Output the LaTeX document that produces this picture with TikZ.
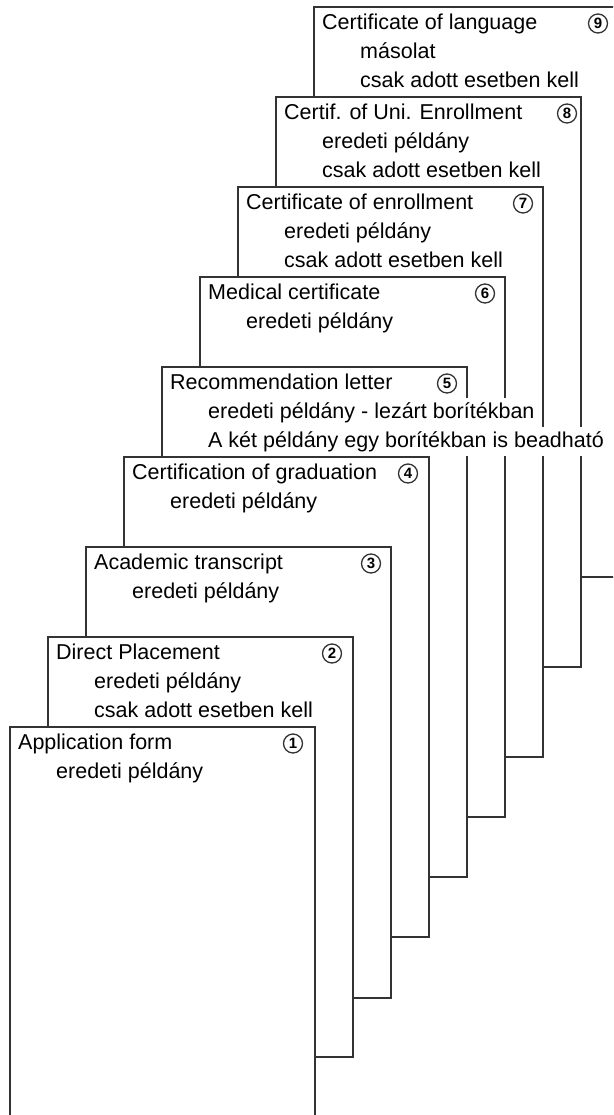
\documentclass[tikz,border=0pt]{standalone}
\usepackage{fontspec}
\setmainfont{Liberation Sans}

\tikzset{
    page/.style={draw=black!80, line width=2pt, fill=white},
    doctext/.style={anchor=base west, fill=white, inner xsep=1pt, inner ysep=0pt,
        text height=21pt, text depth=8pt, font=\fontsize{21.5}{29}\selectfont},
    docnum/.style={circle, draw=black!80, line width=1.3pt, inner sep=0pt,
        minimum size=19pt, font=\fontsize{15}{15}\selectfont\bfseries},
}

\begin{document}
\begin{tikzpicture}[x=1pt,y=-1pt]
    \path [use as bounding box, clip] (0,0) rectangle (613,1115);
    \foreach \i/\bot/\off/\title/\rowa/\rowb in {
        9/577/21/{Certificate of language}/{másolat}/{csak adott esetben kell},
        8/667/14/{Certif. of Uni. Enrollment}/{eredeti példány}/{csak adott esetben kell},
        7/757/20/{Certificate of enrollment}/{eredeti példány}/{csak adott esetben kell},
        6/817/20/{Medical certificate}/{eredeti példány}/{},
        5/877/20/{Recommendation letter}/{eredeti példány - lezárt borítékban}/{A két példány egy borítékban is beadható},
        4/937/21/{Certification of graduation}/{eredeti példány}/{},
        3/998/20/{Academic transcript}/{eredeti példány}/{},
        2/1057/21/{Direct Placement}/{eredeti példány}/{csak adott esetben kell},
        1/1130/22/{Application form}/{eredeti példány}/{}} {
        \pgfmathparse{10+38*(\i-1)}
        \let\xx\pgfmathresult
        \pgfmathparse{727-90*(\i-1)}
        \let\yy\pgfmathresult
        \draw [page] (\xx,\yy) rectangle (\xx+305,\bot);
        \node [doctext] (title\i) at (\xx+7,\yy+22.5) {\title};
        \node [doctext] (rowa\i) at (\xx+45,\yy+51.5) {\rowa};
        \edef\tmp{\rowb}
        \ifx\tmp\empty\else
            \node [doctext] (rowb\i) at (\xx+45,\yy+80.5) {\rowb};
        \fi
        \node [docnum] (num\i) at (\xx+305-\off,\yy+16.5) {\i};
    }
\end{tikzpicture}
\end{document}
